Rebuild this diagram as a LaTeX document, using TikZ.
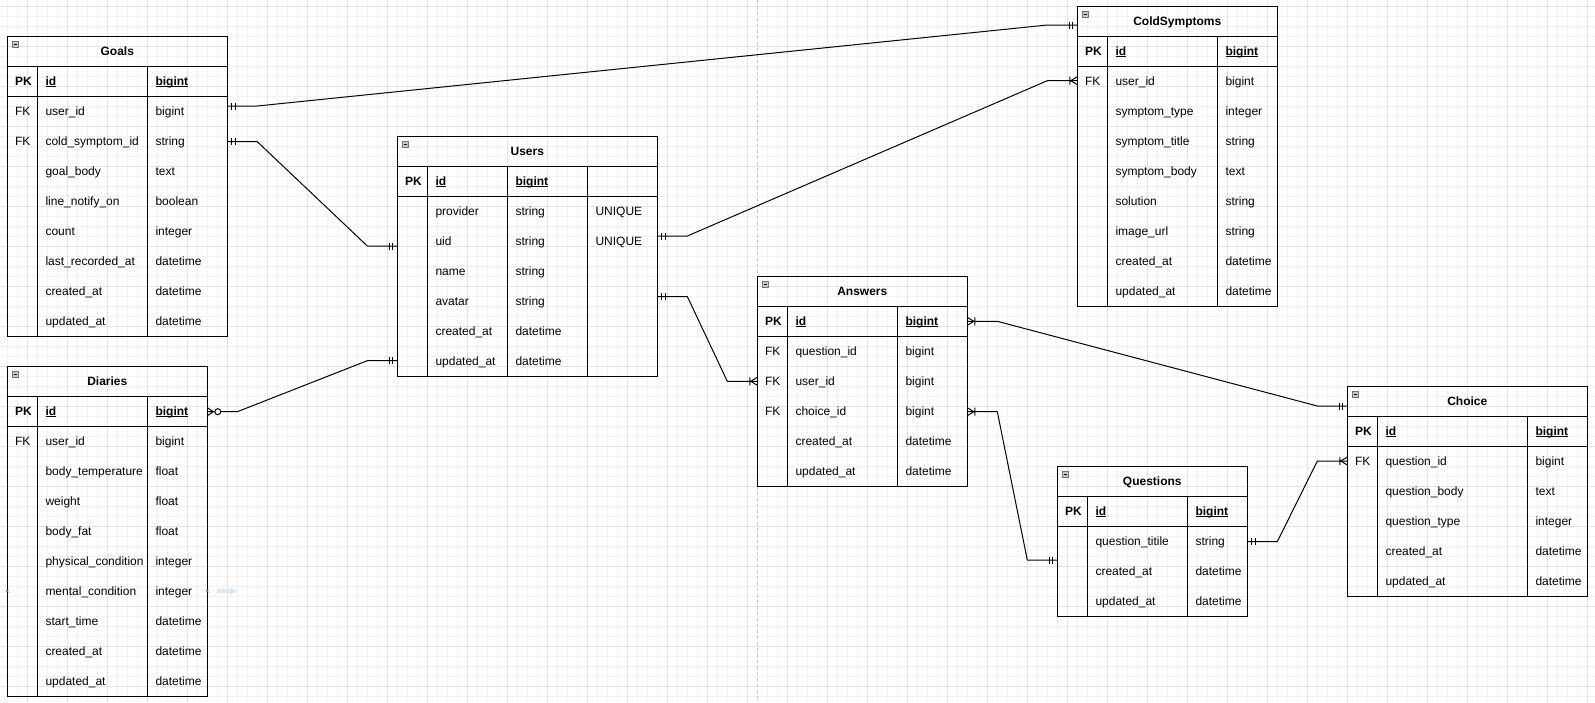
\documentclass[tikz,border=0pt]{standalone}
\usepackage{fontspec}
\setmainfont{Liberation Sans}
\usetikzlibrary{calc}

\definecolor{gridminor}{HTML}{F2F2F2}
\definecolor{gridmajor}{HTML}{E2E2E2}
\definecolor{pagebreak}{HTML}{C4C4C4}
\definecolor{hoverblue}{HTML}{3A87F2}
\definecolor{hoverfill}{HTML}{D9E7FB}

\newcommand{\erul}[1]{\setbox0\hbox{#1}\rlap{\rule[-1.7pt]{\wd0}{0.9pt}}\box0}

\tikzset{
  erbox/.style={draw, line width=1pt, inner sep=0pt, outer sep=0pt, anchor=north west},
  ertitle/.style={anchor=base, inner sep=0pt, font=\fontsize{12}{14}\selectfont\bfseries},
  erhead/.style={anchor=base west, inner sep=0pt, font=\fontsize{12}{14}\selectfont\bfseries},
  ercell/.style={anchor=base west, inner sep=0pt},
  erline/.style={line width=1pt},
  ericon/.style={draw=black!55, fill=black!22, line width=0.7pt},
  conn/.style={line width=1pt, line join=round},
  pics/mandone/.style={code={\draw[conn, xscale=#1] (4.5,-3.5) -- (4.5,3.5) (8,-3.5) -- (8,3.5);}},
  pics/onemany/.style={code={\draw[conn, xscale=#1] (0,-4) -- (6.5,0) -- (0,4) (7.5,-4) -- (7.5,4);}},
  pics/zeromany/.style={code={\draw[conn, xscale=#1] (0,-4) -- (6,0) -- (0,4);
    \draw[conn, fill=white, xscale=#1] (10.5,0) circle (3);}},
}

% name, left, top, first col, second col, right, rows, title, row list
\newcommand{\ertable}[9]{%
  \pgfmathsetmacro{\erbot}{#3+59.3+30*#7}
  \node[erbox, minimum width={#6-#2}, minimum height={\erbot-#3}] (#1) at (#2,#3) {};
  \node[ertitle] (#1-title) at ({(#2+#6)/2},#3+18.8) {#8};
  \draw[erline] (#2,#3+29.3) -- (#6,#3+29.3) (#2,#3+59.3) -- (#6,#3+59.3)
    (#4,#3+29.3) -- (#4,\erbot) (#5,#3+29.3) -- (#5,\erbot);
  \draw[ericon] (#2+5.2,#3+4.8) rectangle ++(5.6,5.6);
  \draw[line width=0.8pt] (#2+6.4,#3+7.6) -- ++(3.2,0);
  \node[erhead] (#1-pk) at (#2+7.5,#3+48.6) {PK};
  \node[erhead] (#1-id) at (#4+8,#3+48.6) {\erul{id}};
  \node[erhead] (#1-type) at (#5+8,#3+48.6) {\erul{bigint}};
  \foreach \k/\n/\t [count=\i] in {#9}{
    \node[ercell] (#1-k\i) at (#2+7.5,{#3+48.6+30*\i}) {\k};
    \node[ercell] (#1-n\i) at (#4+8,{#3+48.6+30*\i}) {\n};
    \node[ercell] (#1-t\i) at (#5+8,{#3+48.6+30*\i}) {\t};
  }
}

\begin{document}
\begin{tikzpicture}[x=1pt, y=-1pt, font=\fontsize{12}{14}\selectfont]
  \useasboundingbox (0,0) rectangle (1595,702);
  \fill[white] (0,0) rectangle (1595,702);
  % grid
  \foreach \x in {7.3,17.3,...,1595} \draw[gridminor, line width=0.8pt] (\x,0) -- (\x,702);
  \foreach \y in {6.7,16.7,...,702} \draw[gridminor, line width=0.8pt] (0,\y) -- (1595,\y);
  \foreach \x in {27.3,67.3,...,1595} \draw[gridmajor, line width=0.8pt] (\x,0) -- (\x,702);
  \foreach \y in {6.7,46.7,...,702} \draw[gridmajor, line width=0.8pt] (0,\y) -- (1595,\y);
  \draw[pagebreak, dash pattern=on 3pt off 3pt, line width=0.8pt] (757.3,0) -- (757.3,702);

  % tables
  \ertable{goals}{7.3}{36.7}{37.3}{147.3}{227.3}{8}{Goals}{FK/user\_id/bigint, FK/cold\_symptom\_id/string,
    {}/goal\_body/text, {}/line\_notify\_on/boolean, {}/count/integer,
    {}/last\_recorded\_at/datetime, {}/created\_at/datetime, {}/updated\_at/datetime}
  \ertable{users}{397.3}{136.7}{427.3}{507.3}{657.3}{6}{Users}{{}/provider/string, {}/uid/string,
    {}/name/string, {}/avatar/string, {}/created\_at/datetime, {}/updated\_at/datetime}
  \draw[erline] (587.3,166) -- (587.3,376);
  \node[ercell] (users-u1) at (595.3,215.3) {UNIQUE};
  \node[ercell] (users-u2) at (595.3,245.3) {UNIQUE};
  \ertable{diaries}{7.3}{366.7}{37.3}{147.3}{207.3}{9}{Diaries}{FK/user\_id/bigint,
    {}/body\_temperature/float, {}/weight/float, {}/body\_fat/float,
    {}/physical\_condition/integer, {}/mental\_condition/integer,
    {}/start\_time/datetime, {}/created\_at/datetime, {}/updated\_at/datetime}
  \ertable{cold}{1077.3}{6.7}{1107.3}{1217.3}{1277.3}{8}{ColdSymptoms}{FK/user\_id/bigint,
    {}/symptom\_type/integer, {}/symptom\_title/string, {}/symptom\_body/text,
    {}/solution/string, {}/image\_url/string, {}/created\_at/datetime, {}/updated\_at/datetime}
  \ertable{answers}{757.3}{276.7}{787.3}{897.3}{967.3}{5}{Answers}{FK/question\_id/bigint,
    FK/user\_id/bigint, FK/choice\_id/bigint, {}/created\_at/datetime, {}/updated\_at/datetime}
  \ertable{questions}{1057.3}{466.7}{1087.3}{1187.3}{1247.3}{3}{Questions}{{}/question\_titile/string,
    {}/created\_at/datetime, {}/updated\_at/datetime}
  \ertable{choice}{1347.3}{386.7}{1377.3}{1527.3}{1587.3}{5}{Choice}{FK/question\_id/bigint,
    {}/question\_body/text, {}/question\_type/integer, {}/created\_at/datetime, {}/updated\_at/datetime}

  % hover marks
  \draw[hoverblue, line width=0.6pt] (6,589.7) -- (8.6,592.3) (6,592.3) -- (8.6,589.7);
  \draw[hoverblue, line width=0.6pt] (206,589.7) -- (208.6,592.3) (206,592.3) -- (208.6,589.7);
  \fill[hoverfill] (216.7,589.3) rectangle (230,592.7);
  \fill[hoverfill] (229.5,587.5) -- (238,591) -- (229.5,594.5) -- cycle;

  % relations
  \draw[conn] (goals.east |- 0,106) -- ++(30,0) -- ($(cold.west |- 0,25)+(-30,0)$) -- (cold.west |- 0,25);
  \draw[conn] (goals.east |- 0,141.7) -- ++(30,0) -- ($(users.west |- 0,246)+(-30,0)$) -- (users.west |- 0,246);
  \draw[conn] (diaries.east |- 0,411.7) -- ++(30,0) -- ($(users.west |- 0,360.7)+(-30,0)$) -- (users.west |- 0,360.7);
  \draw[conn] (users.east |- 0,236) -- ++(30,0) -- ($(cold.west |- 0,80.7)+(-30,0)$) -- (cold.west |- 0,80.7);
  \draw[conn] (users.east |- 0,296.5) -- ++(30,0) -- ($(answers.west |- 0,381.3)+(-30,0)$) -- (answers.west |- 0,381.3);
  \draw[conn] (answers.east |- 0,321.3) -- ++(30,0) -- ($(choice.west |- 0,406)+(-30,0)$) -- (choice.west |- 0,406);
  \draw[conn] (answers.east |- 0,411.7) -- ++(30,0) -- ($(questions.west |- 0,560)+(-30,0)$) -- (questions.west |- 0,560);
  \draw[conn] (questions.east |- 0,541.7) -- ++(30,0) -- ($(choice.west |- 0,461)+(-30,0)$) -- (choice.west |- 0,461);

  % ends
  \pic at (goals.east |- 0,106) {mandone=1};
  \pic at (cold.west |- 0,25) {mandone=-1};
  \pic at (goals.east |- 0,141.7) {mandone=1};
  \pic at (users.west |- 0,246) {mandone=-1};
  \pic at (diaries.east |- 0,411.7) {zeromany=1};
  \pic at (users.west |- 0,360.7) {mandone=-1};
  \pic at (users.east |- 0,236) {mandone=1};
  \pic at (cold.west |- 0,80.7) {onemany=-1};
  \pic at (users.east |- 0,296.5) {mandone=1};
  \pic at (answers.west |- 0,381.3) {onemany=-1};
  \pic at (answers.east |- 0,321.3) {onemany=1};
  \pic at (choice.west |- 0,406) {mandone=-1};
  \pic at (answers.east |- 0,411.7) {onemany=1};
  \pic at (questions.west |- 0,560) {mandone=-1};
  \pic at (questions.east |- 0,541.7) {mandone=1};
  \pic at (choice.west |- 0,461) {onemany=-1};
\end{tikzpicture}
\end{document}
